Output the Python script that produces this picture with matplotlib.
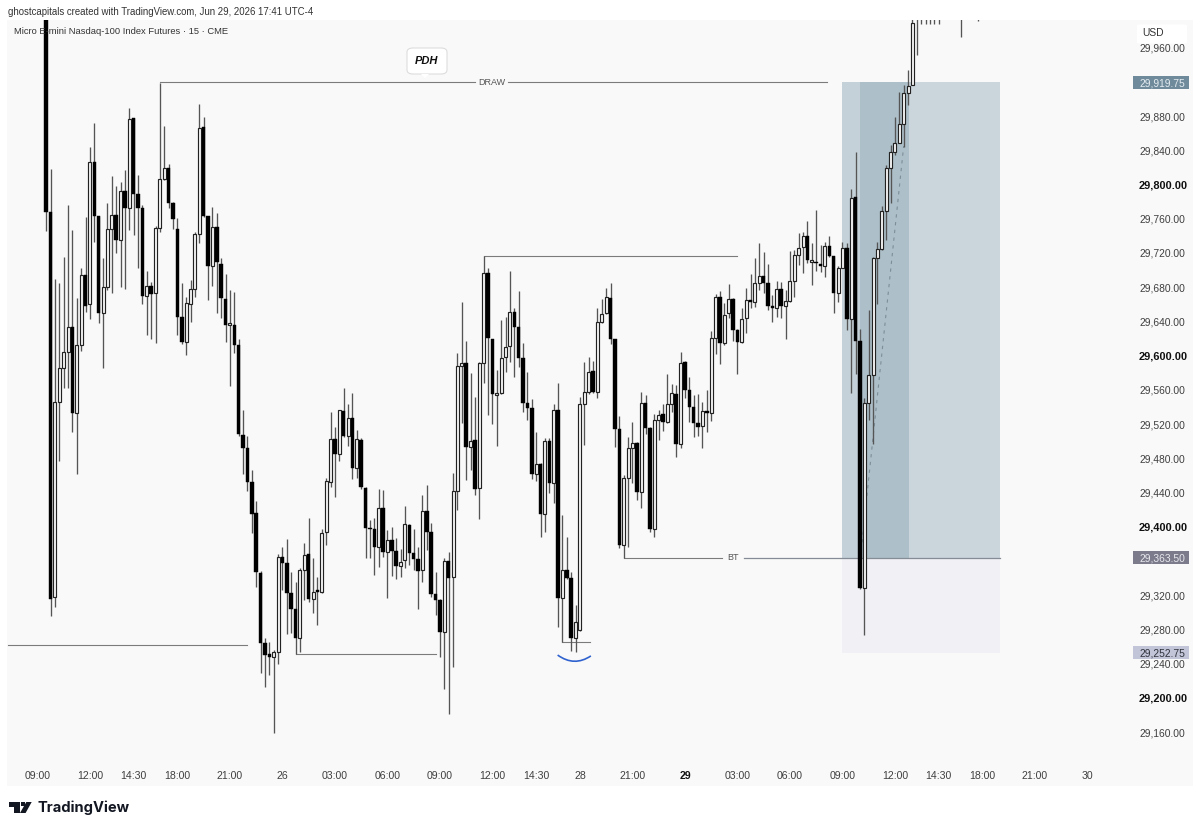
import matplotlib
matplotlib.use("Agg")
import numpy as np
import matplotlib.pyplot as plt
from matplotlib.patches import Rectangle, Polygon, FancyBboxPatch, PathPatch
from matplotlib.path import Path
from matplotlib.transforms import blended_transform_factory

plt.rcParams['font.family'] = ['Liberation Sans', 'DejaVu Sans']

# 15 minute bars, one per index
opens = [30120, 29768, 29318, 29546, 29585, 29604, 29633, 29533, 29612, 29694,
         29660, 29826, 29763, 29650, 29680, 29748, 29764, 29735, 29793, 29772,
         29878, 29789, 29772, 29670, 29681, 29673, 29749, 29806, 29819, 29778,
         29748, 29645, 29616, 29660, 29678, 29742, 29867, 29763, 29705, 29750,
         29707, 29666, 29636, 29636, 29612, 29507, 29492, 29452, 29416, 29346,
         29264, 29251, 29248, 29254, 29365, 29358, 29322, 29304, 29270, 29349,
         29368, 29315, 29325, 29324, 29394, 29452, 29502, 29485, 29535, 29506,
         29527, 29469, 29501, 29445, 29398, 29397, 29376, 29422, 29370, 29384,
         29372, 29354, 29361, 29402, 29369, 29362, 29349, 29418, 29394, 29321,
         29314, 29277, 29360, 29341, 29442, 29588, 29591, 29493, 29501, 29445,
         29591, 29696, 29619, 29554, 29556, 29598, 29611, 29651, 29633, 29597,
         29545, 29539, 29462, 29473, 29415, 29500, 29451, 29536, 29317, 29349,
         29340, 29270, 29279, 29543, 29557, 29582, 29557, 29639, 29650, 29667,
         29619, 29514, 29379, 29457, 29492, 29498, 29441, 29545, 29515, 29397,
         29525, 29532, 29522, 29543, 29555, 29497, 29592, 29560, 29540, 29521,
         29518, 29535, 29533, 29621, 29668, 29615, 29650, 29666, 29630, 29616,
         29644, 29665, 29663, 29685, 29693, 29685, 29657, 29656, 29678, 29658,
         29664, 29687, 29718, 29727, 29740, 29710, 29710, 29707, 29705, 29728,
         29716, 29673, 29703, 29726, 29643, 29785, 29617, 29328, 29545, 29577,
         29714, 29725, 29769, 29819, 29838, 29848, 29871, 29907, 29916, 30000]

closes = [29768, 29315, 29546, 29585, 29604, 29633, 29533, 29612, 29694, 29658,
          29826, 29763, 29650, 29680, 29748, 29764, 29735, 29793, 29772, 29876,
          29789, 29772, 29670, 29681, 29672, 29749, 29806, 29819, 29778, 29760,
          29645, 29616, 29661, 29678, 29742, 29866, 29763, 29705, 29750, 29709,
          29667, 29636, 29637, 29612, 29508, 29492, 29452, 29415, 29347, 29264,
          29250, 29248, 29254, 29365, 29358, 29322, 29304, 29270, 29349, 29367,
          29315, 29324, 29324, 29393, 29453, 29502, 29485, 29536, 29506, 29527,
          29469, 29502, 29446, 29398, 29397, 29376, 29422, 29370, 29384, 29372,
          29354, 29359, 29403, 29369, 29362, 29348, 29418, 29394, 29321, 29314,
          29277, 29360, 29340, 29442, 29588, 29591, 29493, 29500, 29444, 29591,
          29696, 29621, 29555, 29556, 29597, 29610, 29651, 29633, 29597, 29545,
          29539, 29462, 29473, 29415, 29500, 29451, 29536, 29317, 29349, 29340,
          29270, 29289, 29543, 29557, 29581, 29557, 29639, 29649, 29668, 29619,
          29514, 29379, 29457, 29492, 29498, 29441, 29545, 29515, 29397, 29525,
          29531, 29522, 29543, 29556, 29497, 29591, 29560, 29540, 29521, 29517,
          29535, 29533, 29621, 29668, 29615, 29647, 29666, 29630, 29616, 29643,
          29665, 29663, 29685, 29693, 29685, 29658, 29656, 29678, 29658, 29664,
          29687, 29718, 29726, 29740, 29712, 29711, 29708, 29705, 29728, 29716,
          29673, 29703, 29726, 29643, 29784, 29617, 29328, 29545, 29577, 29714,
          29725, 29769, 29819, 29838, 29848, 29871, 29907, 29915, 29989, 30020]

highs = [30130, 29818, 29689, 29685, 29715, 29776, 29747, 29667, 29702, 29762,
         29844, 29872, 29763, 29714, 29778, 29810, 29798, 29803, 29817, 29890,
         29878, 29811, 29776, 29699, 29686, 29751, 29919, 29868, 29824, 29779,
         29761, 29685, 29668, 29688, 29744, 29894, 29879, 29763, 29774, 29767,
         29714, 29695, 29677, 29674, 29620, 29537, 29506, 29466, 29430, 29348,
         29270, 29265, 29256, 29368, 29376, 29386, 29347, 29335, 29352, 29381,
         29410, 29363, 29341, 29397, 29457, 29534, 29517, 29537, 29562, 29543,
         29556, 29513, 29504, 29446, 29408, 29410, 29444, 29443, 29396, 29400,
         29387, 29374, 29424, 29403, 29397, 29376, 29437, 29449, 29404, 29347,
         29315, 29363, 29370, 29463, 29603, 29663, 29617, 29580, 29552, 29592,
         29716, 29703, 29620, 29583, 29642, 29645, 29699, 29656, 29675, 29615,
         29581, 29549, 29511, 29474, 29504, 29504, 29543, 29568, 29414, 29388,
         29347, 29308, 29552, 29592, 29598, 29594, 29656, 29666, 29679, 29685,
         29620, 29529, 29460, 29505, 29522, 29499, 29557, 29554, 29517, 29532,
         29537, 29543, 29578, 29567, 29566, 29604, 29594, 29575, 29554, 29555,
         29546, 29560, 29629, 29672, 29675, 29661, 29684, 29667, 29631, 29656,
         29679, 29695, 29714, 29732, 29721, 29707, 29671, 29687, 29686, 29677,
         29722, 29723, 29743, 29744, 29757, 29732, 29770, 29729, 29733, 29740,
         29717, 29705, 29733, 29732, 29795, 29838, 29631, 29550, 29653, 29715,
         29733, 29775, 29823, 29846, 29879, 29908, 29916, 29934, 29995, 30030]

lows = [29746, 29296, 29306, 29477, 29562, 29562, 29511, 29462, 29605, 29651,
        29643, 29733, 29638, 29585, 29677, 29673, 29720, 29680, 29678, 29747,
        29741, 29702, 29660, 29624, 29619, 29615, 29744, 29805, 29772, 29748,
        29624, 29614, 29601, 29639, 29668, 29732, 29762, 29665, 29681, 29650,
        29644, 29616, 29564, 29603, 29506, 29462, 29442, 29393, 29330, 29229,
        29213, 29227, 29159, 29239, 29326, 29275, 29276, 29251, 29254, 29314,
        29312, 29299, 29285, 29322, 29379, 29446, 29435, 29477, 29505, 29494,
        29456, 29457, 29444, 29363, 29363, 29344, 29353, 29365, 29317, 29342,
        29339, 29341, 29352, 29355, 29349, 29304, 29335, 29373, 29318, 29297,
        29248, 29210, 29181, 29236, 29420, 29521, 29455, 29466, 29437, 29409,
        29568, 29531, 29520, 29494, 29555, 29581, 29592, 29575, 29587, 29534,
        29525, 29456, 29453, 29388, 29394, 29439, 29428, 29283, 29265, 29339,
        29255, 29254, 29278, 29495, 29555, 29556, 29550, 29638, 29649, 29614,
        29493, 29375, 29363, 29376, 29451, 29431, 29422, 29508, 29394, 29388,
        29501, 29512, 29521, 29534, 29481, 29492, 29550, 29522, 29505, 29506,
        29492, 29511, 29524, 29602, 29590, 29612, 29644, 29617, 29578, 29615,
        29626, 29656, 29657, 29677, 29673, 29653, 29639, 29645, 29644, 29619,
        29663, 29668, 29706, 29697, 29708, 29682, 29699, 29698, 29692, 29715,
        29650, 29663, 29702, 29630, 29556, 29578, 29327, 29273, 29525, 29497,
        29660, 29723, 29735, 29778, 29834, 29848, 29844, 29893, 29916, 29951]

# later bars trade above the visible range, only their lower wicks show
late_bars = [200, 201, 202, 203, 204, 209, 213]
late_lows = [29988, 29988, 29988, 29988, 29988, 29973, 29991]

tick_bars = [-2, 10, 20, 30, 42, 54, 66, 78, 90, 102, 112, 122, 134, 146, 158, 170, 182, 194, 204, 214, 226, 238]
tick_names = ["09:00", "12:00", "14:30", "18:00", "21:00", "26", "03:00", "06:00", "09:00", "12:00", "14:30",
              "28", "21:00", "29", "03:00", "06:00", "09:00", "12:00", "14:30", "18:00", "21:00", "30"]
# the scale hides the round levels that sit under the position tags
price_ticks = [p for p in range(29160, 29961, 40) if p not in (29360, 29920)]

target_price = 29919.75
entry_price = 29363.50
stop_price = 29252.75

W, H = 1200, 831
fig = plt.figure(figsize=(W / 100, H / 100), dpi=100, facecolor="white")


def fx(px):
    return px / W


def fy(py):
    return 1 - py / H


fig.add_artist(Rectangle((fx(7), fy(786)), fx(1186), 766 / H, transform=fig.transFigure,
                         facecolor="#f9f9f9", edgecolor="none", zorder=-5))

ax = fig.add_axes([fx(7), fy(762), fx(1123), 742 / H], zorder=1)
ax.patch.set_visible(False)
ax.set_xlim(-8.96, 247.73)
ax.set_ylim(29125, 29992.3)
for s in ax.spines.values():
    s.set_visible(False)

# long position box
ax.add_patch(Rectangle((182, entry_price), 36.1, target_price - entry_price, facecolor="#cbd5dc", edgecolor="none", zorder=1))
ax.add_patch(Rectangle((182, entry_price), 4.1, target_price - entry_price, facecolor="#c4d1d8", edgecolor="none", zorder=1))
ax.add_patch(Rectangle((186.1, entry_price), 11.2, target_price - entry_price, facecolor="#adbfc8", edgecolor="none", zorder=1))
ax.add_patch(Rectangle((182, stop_price), 36.1, entry_price - stop_price, facecolor="#f0f0f5", edgecolor="none", zorder=1))
ax.plot([186.1, 196], [entry_price, 29845], color="#7d8e99", lw=0.8, ls=(0, (3, 4)), zorder=2)

# levels
line_col = "#7b7b7b"
ax.plot([-8.8, 46], [29262, 29262], color=line_col, lw=0.8, zorder=2)
ax.plot([57, 89.2], [29251, 29251], color=line_col, lw=0.8, zorder=2)
ax.plot([100, 158], [29716, 29716], color=line_col, lw=0.8, zorder=2)
ax.plot([118, 124.3], [29265, 29265], color=line_col, lw=0.8, zorder=2)
ax.plot([26, 98], [target_price, target_price], color=line_col, lw=0.8, zorder=2)
ax.plot([105.5, 178.5], [target_price, target_price], color=line_col, lw=0.8, zorder=2)
ax.plot([132, 154.5], [entry_price, entry_price], color=line_col, lw=0.8, zorder=2)
ax.plot([159.5, 218.1], [entry_price, entry_price], color="#868c95", lw=0.9, zorder=2)
ax.text(101.8, target_price, "DRAW", ha="center", va="center", fontsize=6.5, color="#555555")
ax.text(157, entry_price, "BT", ha="center", va="center", fontsize=6.5, color="#555555")

# swept low marker
arc = Path([(116.9, 29250), (120.7, 29236), (124.5, 29249)], [Path.MOVETO, Path.CURVE3, Path.CURVE3])
ax.add_patch(PathPatch(arc, facecolor="none", edgecolor="#2f62cf", lw=1.2, zorder=3))

# candles
o = np.array(opens, float)
c = np.array(closes, float)
x = np.arange(len(o))
ax.vlines(x, lows, highs, color="#555555", lw=0.95, zorder=4)
ax.vlines(late_bars, late_lows, 30060, color="#555555", lw=0.95, zorder=4)
down = c < o
ax.bar(x[~down], np.maximum(c - o, 2)[~down], bottom=o[~down], width=0.68,
       facecolor="#fbfbfb", edgecolor="#222222", linewidth=0.85, zorder=5)
ax.bar(x[down], np.maximum(o - c, 2)[down], bottom=c[down], width=0.8,
       facecolor="#000000", edgecolor="#000000", linewidth=0.3, zorder=5)

# axes labels
ax.set_xticks(tick_bars)
ax.set_xticklabels(tick_names, fontsize=7.6, color="#3f3f3f")
ax.get_xticklabels()[tick_names.index("29")].set_fontweight("bold")
ax.get_xticklabels()[tick_names.index("29")].set_color("#111111")
ax.tick_params(axis="x", length=0, pad=6.2)
ax.yaxis.tick_right()
ax.set_yticks(price_ticks)
ax.set_yticklabels([f"{p:,.2f}" for p in price_ticks], fontsize=7.4, color="#3f3f3f", va="center_baseline")
ax.tick_params(axis="y", length=0, pad=6.5)
for lab, p in zip(ax.get_yticklabels(), price_ticks):
    if p % 200 == 0:
        lab.set_fontweight("bold")
        lab.set_fontsize(7.9)
        lab.set_color("#111111")

# price tags on the scale
tr = blended_transform_factory(fig.transFigure, ax.transData)
tags = [(target_price, "#6f8a9b", "#e4ecf1"), (entry_price, "#7b7b8b", "#e8e8ee"), (stop_price, "#c2c5d8", "#30323c")]
for price, bg, fg in tags:
    ax.add_patch(Rectangle((fx(1133), price - 7.6), fx(56), 15.2, transform=tr, facecolor=bg, edgecolor="none",
                           clip_on=False, zorder=8))
    ax.text(fx(1139), price, f"{price:,.2f}", transform=tr, ha="left", va="center_baseline", fontsize=7.4, color=fg,
            clip_on=False, zorder=9)

# headers
fig.text(fx(8), fy(12), "ghostcapitals created with TradingView.com, Jun 29, 2026 17:41 UTC-4", fontsize=6.95,
         color="#333333", va="center", zorder=10)
fig.text(fx(14), fy(32), "Micro E-mini Nasdaq-100 Index Futures · 15 · CME", fontsize=6.75, color="#333333",
         va="center", zorder=10)

# currency box
fig.add_artist(FancyBboxPatch((fx(1137), fy(43.5)), fx(50), 19 / H, boxstyle="round,pad=0,rounding_size=0.002",
                              transform=fig.transFigure, facecolor="white", edgecolor="none", zorder=10))
fig.text(fx(1142), fy(33), "USD", fontsize=7.4, color="#333333", va="center", zorder=11)

# PDH callout
fig.add_artist(FancyBboxPatch((fx(407), fy(74)), fx(40), 26 / H, boxstyle="round,pad=0,rounding_size=0.005",
                              transform=fig.transFigure, facecolor="white", edgecolor="#dddddd", linewidth=0.8, zorder=10))
fig.add_artist(Polygon([(fx(421), fy(74)), (fx(425), fy(78)), (fx(429), fy(74))], transform=fig.transFigure,
                       facecolor="white", edgecolor="none", zorder=11))
fig.text(fx(426), fy(61), "PDH", fontsize=8, fontweight="bold", fontstyle="italic", color="#111111", ha="center",
         va="center", zorder=12)

# footer logo
logo = "#131722"
fig.add_artist(Polygon([(fx(9.3), fy(802)), (fx(19.5), fy(802)), (fx(19.5), fy(813)), (fx(14), fy(813)),
                        (fx(14), fy(806.5)), (fx(9.3), fy(806.5))], transform=fig.transFigure, facecolor=logo, edgecolor="none"))
fig.add_artist(Polygon([(fx(26.3), fy(802)), (fx(31.7), fy(802)), (fx(25.6), fy(813)), (fx(20), fy(813))],
                       transform=fig.transFigure, facecolor=logo, edgecolor="none"))
fig.add_artist(Polygon([(fx(21), fy(802)), (fx(24.6), fy(802)), (fx(24.6), fy(806)), (fx(21), fy(806))],
                       transform=fig.transFigure, facecolor=logo, edgecolor="none"))
fig.text(fx(37), fy(808), "TradingView", fontsize=10.6, fontweight="bold", family=["Inter", "DejaVu Sans"],
         color=logo, va="center")

fig.savefig("out.png", dpi=100)
